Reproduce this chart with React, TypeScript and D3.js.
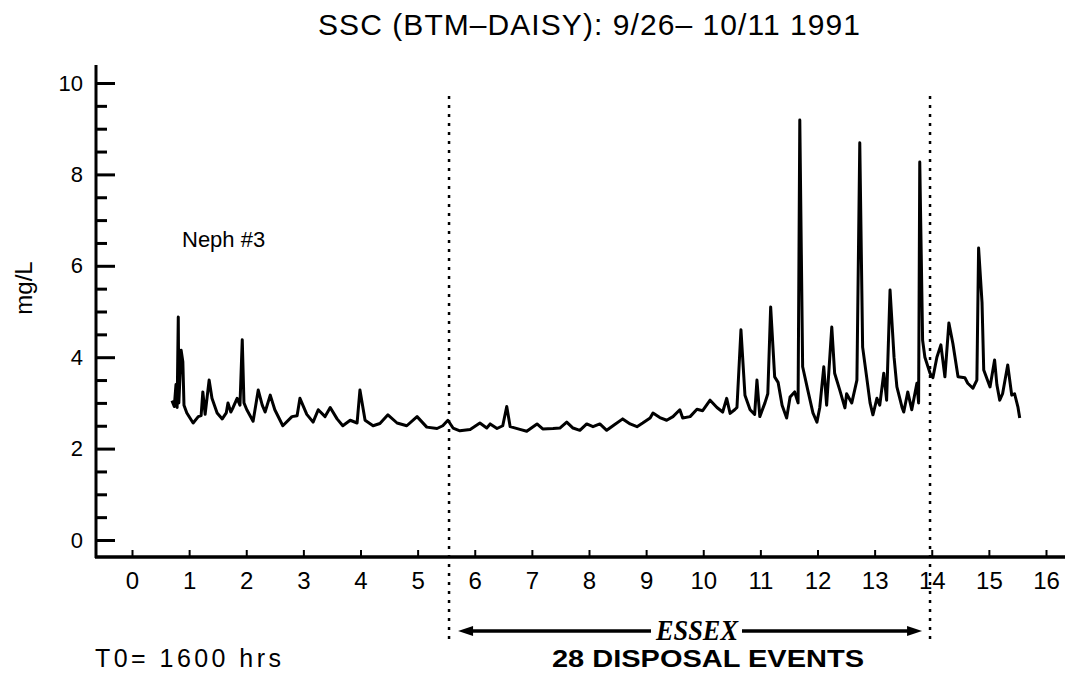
import * as d3 from 'd3';
import React from 'react';

// hours after T0 (x) and suspended sediment, mg/L (y)
const hours = [
  0.70, 0.74, 0.77, 0.79, 0.81, 0.82, 0.86, 0.89, 0.91, 0.96, 1.07, 1.16, 1.21, 1.24, 1.28, 1.35, 1.40,
  1.49, 1.58, 1.65, 1.68, 1.73, 1.77, 1.84, 1.89, 1.93, 1.96, 2.01, 2.12, 2.21, 2.28, 2.33, 2.42, 2.50,
  2.64, 2.80, 2.89, 2.94, 3.06, 3.17, 3.26, 3.38, 3.47, 3.59, 3.69, 3.82, 3.94, 3.99, 4.08, 4.22, 4.34,
  4.48, 4.64, 4.81, 4.99, 5.16, 5.34, 5.44, 5.53, 5.62, 5.74, 5.92, 6.09, 6.21, 6.27, 6.39, 6.49, 6.56,
  6.62, 6.79, 6.91, 7.09, 7.19, 7.37, 7.49, 7.61, 7.72, 7.84, 7.96, 8.07, 8.19, 8.31, 8.42, 8.59, 8.72,
  8.84, 8.94, 9.07, 9.12, 9.24, 9.36, 9.47, 9.59, 9.64, 9.77, 9.89, 9.99, 10.12, 10.24, 10.34, 10.41,
  10.47, 10.55, 10.59, 10.66, 10.73, 10.82, 10.90, 10.94, 10.99, 11.08, 11.13, 11.18, 11.25, 11.31,
  11.38, 11.46, 11.52, 11.60, 11.66, 11.69, 11.74, 11.83, 11.92, 11.99, 12.04, 12.11, 12.16, 12.25,
  12.30, 12.39, 12.48, 12.51, 12.60, 12.69, 12.74, 12.79, 12.86, 12.92, 12.97, 13.04, 13.09, 13.16,
  13.21, 13.27, 13.34, 13.39, 13.48, 13.51, 13.58, 13.65, 13.74, 13.77, 13.79, 13.84, 13.88, 13.97,
  14.02, 14.09, 14.16, 14.23, 14.30, 14.37, 14.46, 14.58, 14.63, 14.72, 14.79, 14.82, 14.88, 14.91,
  15.02, 15.10, 15.14, 15.19, 15.24, 15.33, 15.40, 15.45, 15.51, 15.54
];
const ssc = [
  3.05, 2.92, 3.40, 2.90, 4.88, 3.00, 4.15, 3.90, 2.95, 2.78, 2.56, 2.70, 2.72, 3.24, 2.75, 3.50, 3.10,
  2.78, 2.65, 2.78, 3.00, 2.80, 2.90, 3.10, 2.95, 4.38, 3.00, 2.85, 2.60, 3.28, 2.95, 2.80, 3.17, 2.85,
  2.50, 2.70, 2.72, 3.10, 2.75, 2.58, 2.85, 2.70, 2.90, 2.65, 2.50, 2.62, 2.56, 3.28, 2.62, 2.50, 2.55,
  2.74, 2.56, 2.50, 2.70, 2.47, 2.44, 2.50, 2.62, 2.45, 2.39, 2.42, 2.56, 2.45, 2.54, 2.44, 2.50, 2.92,
  2.48, 2.42, 2.38, 2.54, 2.43, 2.44, 2.45, 2.58, 2.45, 2.40, 2.54, 2.48, 2.54, 2.40, 2.50, 2.65, 2.54,
  2.48, 2.56, 2.67, 2.78, 2.68, 2.62, 2.70, 2.85, 2.67, 2.70, 2.86, 2.83, 3.06, 2.90, 2.80, 3.10,
  2.77, 2.85, 2.90, 4.60, 3.17, 2.85, 2.75, 3.50, 2.70, 3.00, 3.20, 5.10, 3.57, 3.45,
  2.95, 2.67, 3.13, 3.24, 3.00, 9.19, 3.79, 3.28, 2.78, 2.58, 2.90, 3.79, 2.95, 4.66,
  3.65, 3.28, 2.89, 3.20, 3.00, 3.50, 8.69, 4.22, 3.57, 3.00, 2.74, 3.10, 2.95, 3.65,
  3.06, 5.47, 4.00, 3.35, 2.90, 2.80, 3.24, 2.85, 3.43, 3.00, 8.27, 4.37, 4.00, 3.65,
  3.55, 4.00, 4.27, 3.57, 4.75, 4.30, 3.57, 3.55, 3.43, 3.32, 3.50, 6.39, 5.20, 3.72,
  3.35, 3.94, 3.40, 3.06, 3.20, 3.83, 3.17, 3.20, 2.90, 2.67
];

const xTickValues = [0, 1, 2, 3, 4, 5, 6, 7, 8, 9, 10, 11, 12, 13, 14, 15, 16];
const xTickLabels = ['0', '1', '2', '3', '4', '5', '6', '7', '8', '9', '10', '11', '12', '13', '14', '15', '16'];
const yTickValues = [0, 2, 4, 6, 8, 10];
const yTickLabels = ['0', '2', '4', '6', '8', '10'];
// dredge disposal window (hours)
const essexWindow = [5.55, 13.97];

const titleText = 'SSC (BTM\u2013DAISY): 9/26\u2013 10/11  1991';
const yLabel = 'mg/L';
const seriesLabel = 'Neph  #3';
const t0Label = 'T0= 1600  hrs';
const essexLabel = 'ESSEX';
const eventsLabel = '28 DISPOSAL EVENTS';

const FONT = '"Liberation Sans", Arial, sans-serif';

class SscChart extends React.Component<any> {
  _rootNode: any;
  width = 1069;
  height = 676;

  componentDidMount() {
    this.create();
  }

  xScale() {
    return d3.scaleLinear().domain([0, 16]).range([132, 1046]);
  }

  yScale() {
    return d3.scaleLinear().domain([0, 10]).range([540, 83]);
  }

  create() {
    const x = this.xScale();
    const y = this.yScale();
    const axisY = 557;
    const axisX = 96;

    d3.select(this._rootNode).selectAll('*').remove();
    const svg = d3.select(this._rootNode)
      .append('svg')
      .attr('width', this.width)
      .attr('height', this.height)
      .style('position', 'absolute')
      .style('left', 0)
      .style('top', 0)
      .style('background', '#fff')
      .style('font-family', FONT);

    // title
    svg.append('text')
      .attr('x', 318)
      .attr('y', 35)
      .attr('font-size', 30)
      .attr('textLength', 542)
      .attr('lengthAdjust', 'spacing')
      .text(titleText);

    // y axis: ticks every 0.5, longer on even numbers
    const minorTicks = d3.range(0, 10.01, 0.5);
    svg.append('g')
      .attr('class', 'yaxis')
      .attr('transform', 'translate(' + axisX + ',0)')
      .call(d3.axisRight(y).tickValues(minorTicks).tickFormat(() => ''))
      .call(g => g.select('.domain').remove())
      .call(g => g.selectAll('.tick line')
        .attr('stroke-width', 3)
        .attr('x2', (d: any) => (d % 2 === 0 ? 19 : 11)));

    svg.append('g')
      .attr('transform', 'translate(' + (axisX - 13) + ',0)')
      .call(d3.axisLeft(y).tickValues(yTickValues).tickSize(0).tickPadding(0)
        .tickFormat((d, i) => yTickLabels[i]))
      .call(g => g.select('.domain').remove())
      .call(g => g.selectAll('.tick text')
        .attr('font-size', 22)
        .attr('font-family', FONT)
        .attr('fill', '#000'));

    svg.append('line')
      .attr('x1', axisX).attr('x2', axisX)
      .attr('y1', 65).attr('y2', axisY + 1)
      .attr('stroke', '#000').attr('stroke-width', 3);

    // x axis
    svg.append('g')
      .attr('transform', 'translate(0,' + axisY + ')')
      .call(d3.axisTop(x).tickValues(xTickValues).tickSize(7).tickFormat(() => ''))
      .call(g => g.select('.domain').remove())
      .call(g => g.selectAll('.tick line').attr('stroke-width', 2));

    svg.append('g')
      .attr('transform', 'translate(0,' + axisY + ')')
      .call(d3.axisBottom(x).tickValues(xTickValues).tickSize(0).tickPadding(15)
        .tickFormat((d, i) => xTickLabels[i]))
      .call(g => g.select('.domain').remove())
      .call(g => g.selectAll('.tick text')
        .attr('font-size', 24)
        .attr('font-family', FONT)
        .attr('fill', '#000'));

    svg.append('line')
      .attr('x1', axisX - 1).attr('x2', 1065)
      .attr('y1', axisY).attr('y2', axisY)
      .attr('stroke', '#000').attr('stroke-width', 3.5);

    // axis label
    svg.append('text')
      .attr('transform', 'translate(32,288) rotate(-90)')
      .attr('text-anchor', 'middle')
      .attr('font-size', 24)
      .text(yLabel);

    // dotted markers for the ESSEX disposal window
    svg.append('g')
      .selectAll('line')
      .data(essexWindow)
      .enter()
      .append('line')
      .attr('x1', d => x(d)).attr('x2', d => x(d))
      .attr('y1', 96).attr('y2', 644)
      .attr('stroke', '#000')
      .attr('stroke-width', 2.5)
      .attr('stroke-dasharray', '3,6');

    // trace
    const line = d3.line<number>()
      .x((d, i) => x(hours[i]))
      .y(d => y(d));
    svg.append('path')
      .datum(ssc)
      .attr('d', line)
      .attr('fill', 'none')
      .attr('stroke', '#000')
      .attr('stroke-width', 3)
      .attr('stroke-linejoin', 'round');

    svg.append('text')
      .attr('x', 182)
      .attr('y', 247)
      .attr('font-size', 22)
      .text(seriesLabel);

    // arrow across disposal window
    const arrowY = 631;
    const xa = x(essexWindow[0]) + 9;
    const xb = x(essexWindow[1]) - 8;
    svg.append('line')
      .attr('x1', xa + 10).attr('x2', 651)
      .attr('y1', arrowY).attr('y2', arrowY)
      .attr('stroke', '#000').attr('stroke-width', 3.5);
    svg.append('line')
      .attr('x1', 742).attr('x2', xb - 10)
      .attr('y1', arrowY).attr('y2', arrowY)
      .attr('stroke', '#000').attr('stroke-width', 3.5);
    svg.append('path')
      .attr('d', 'M' + xa + ',' + arrowY + 'L' + (xa + 15) + ',' + (arrowY - 5) + 'L' + (xa + 15) + ',' + (arrowY + 5) + 'Z')
      .attr('fill', '#000');
    svg.append('path')
      .attr('d', 'M' + xb + ',' + arrowY + 'L' + (xb - 15) + ',' + (arrowY - 5) + 'L' + (xb - 15) + ',' + (arrowY + 5) + 'Z')
      .attr('fill', '#000');

    svg.append('text')
      .attr('x', 697)
      .attr('y', 640)
      .attr('text-anchor', 'middle')
      .attr('font-family', '"Liberation Serif", "DejaVu Serif", serif')
      .attr('font-style', 'italic')
      .attr('font-weight', 'bold')
      .attr('font-size', 30)
      .attr('textLength', 82)
      .attr('lengthAdjust', 'spacingAndGlyphs')
      .text(essexLabel);

    svg.append('text')
      .attr('x', 708)
      .attr('y', 667)
      .attr('text-anchor', 'middle')
      .attr('font-weight', 'bold')
      .attr('font-size', 24)
      .attr('textLength', 312)
      .attr('lengthAdjust', 'spacingAndGlyphs')
      .text(eventsLabel);

    svg.append('text')
      .attr('x', 95)
      .attr('y', 667)
      .attr('font-size', 25)
      .attr('textLength', 186)
      .attr('lengthAdjust', 'spacing')
      .text(t0Label);
  }

  _setRef(componentNode) {
    this._rootNode = componentNode;
  }

  render() {
    return <div id="ssc-chart" ref={this._setRef.bind(this)}></div>;
  }
}

export default function App() {
  return <SscChart />;
}
